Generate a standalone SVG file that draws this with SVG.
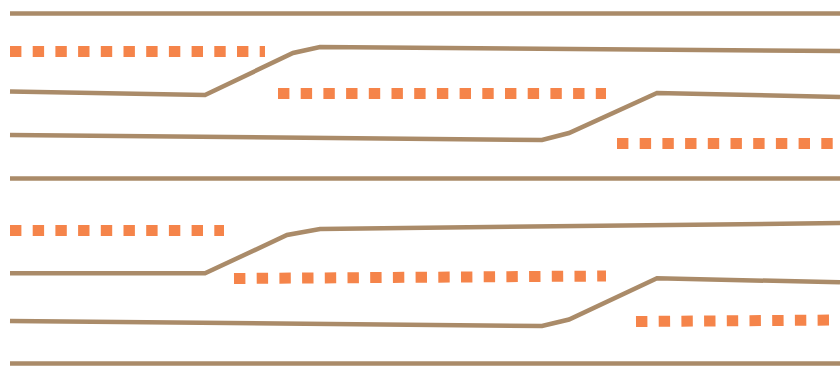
<svg xmlns="http://www.w3.org/2000/svg" width="840" height="366" viewBox="0 0 840 366">
<style>
.lane{fill:none;stroke:#aa8b69;stroke-width:4.5;stroke-linejoin:miter}
.dash{fill:none;stroke:#f5844a;stroke-width:11;stroke-dasharray:11.4 11.3}
</style>
<rect width="840" height="366" fill="#ffffff"/>
<g id="road-top">
<line class="lane" x1="10" y1="13.5" x2="840" y2="13.5"/>
<line class="dash" x1="10" y1="51.5" x2="265" y2="51.5"/>
<polyline class="lane" points="10,91.5 205,95 293,53 320,47 840,51"/>
<line class="dash" x1="278" y1="93.5" x2="606" y2="93.5"/>
<polyline class="lane" points="10,135 542,140 569,133 657,93 840,97"/>
<line class="dash" x1="617" y1="143.5" x2="840" y2="143.5"/>
<line class="lane" x1="10" y1="178.5" x2="840" y2="178.5"/>
</g>
<g id="road-bottom">
<line class="dash" x1="10" y1="230.5" x2="224" y2="230.5"/>
<polyline class="lane" points="10,273.3 205,273.3 287,235 320,229 840,223"/>
<line class="dash" x1="234" y1="278.5" x2="606" y2="276"/>
<polyline class="lane" points="10,321 542,326 569,319.5 657,278.3 840,282.3"/>
<line class="dash" x1="636" y1="321.5" x2="840" y2="320"/>
<line class="lane" x1="10" y1="363.5" x2="840" y2="363.5"/>
</g>
</svg>
